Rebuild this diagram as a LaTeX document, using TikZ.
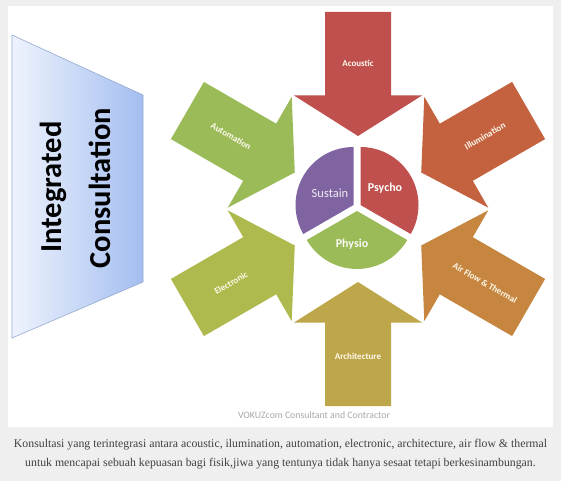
\documentclass[tikz,border=0pt]{standalone}
\usepackage{fontspec}
\setmainfont{Liberation Serif}
\newfontfamily\calibfont{Carlito}
\usepackage{tikz}
\usepackage{xcolor}
\usetikzlibrary{positioning}

\definecolor{pagegray}{RGB}{239,239,239}
\definecolor{acousticred}{RGB}{192,80,77}
\definecolor{illumorange}{RGB}{196,98,64}
\definecolor{airflowbrown}{RGB}{198,134,64}
\definecolor{archgold}{RGB}{190,166,74}
\definecolor{electrolime}{RGB}{174,186,77}
\definecolor{autogreen}{RGB}{155,187,89}
\definecolor{sustainpurple}{RGB}{128,100,162}
\definecolor{psychored}{RGB}{192,80,77}
\definecolor{physiogreen}{RGB}{155,187,89}
\definecolor{consultlight}{RGB}{238,243,253}
\definecolor{consultblue}{RGB}{164,190,240}
\definecolor{consultedge}{RGB}{150,170,210}
\definecolor{labelwhite}{RGB}{255,250,238}
\definecolor{captiongray}{RGB}{64,64,64}
\definecolor{markgray}{RGB}{168,168,168}

\tikzset{
  arrowlabel/.style={font=\calibfont\bfseries\fontsize{9}{10}\selectfont, text=labelwhite, inner sep=0.75pt},
  pielabel/.style={font=\calibfont\bfseries\fontsize{12}{14}\selectfont, text=white, inner sep=0.75pt},
  bigtitle/.style={font=\calibfont\bfseries\fontsize{30.5}{34}\selectfont, text=black, inner sep=0pt, rotate=90}
}

\begin{document}
\begin{tikzpicture}[x=1pt,y=1pt,yscale=-1,xscale=1]
\useasboundingbox (0,0) rectangle (561,481);

%Background
\fill [color=pagegray] (0,0) rectangle (561,481) ;
\fill [color=white] (8,6) rectangle (553,427) ;

%Shape: Trapezoid [Integrated Consultation]
\draw [draw=consultedge, line width=0.6, left color=consultlight, right color=consultblue] (12,35) -- (143,95) -- (143,282) -- (12,338) -- cycle ;

%Shape: Arrow [Acoustic]
\fill [color=acousticred, shift={(358,209)}, rotate=-90] (73,0) -- (113.5,64) -- (113.5,33) -- (197,33) -- (197,-33) -- (113.5,-33) -- (113.5,-64) -- cycle ;
%Shape: Arrow [Illumination]
\fill [color=illumorange, shift={(358,209)}, rotate=-30] (73,0) -- (113.5,64) -- (113.5,33) -- (197,33) -- (197,-33) -- (113.5,-33) -- (113.5,-64) -- cycle ;
%Shape: Arrow [Air Flow & Thermal]
\fill [color=airflowbrown, shift={(358,209)}, rotate=30] (73,0) -- (113.5,64) -- (113.5,33) -- (197,33) -- (197,-33) -- (113.5,-33) -- (113.5,-64) -- cycle ;
%Shape: Arrow [Architecture]
\fill [color=archgold, shift={(358,209)}, rotate=90] (73,0) -- (113.5,64) -- (113.5,33) -- (197,33) -- (197,-33) -- (113.5,-33) -- (113.5,-64) -- cycle ;
%Shape: Arrow [Electronic]
\fill [color=electrolime, shift={(358,209)}, rotate=150] (73,0) -- (113.5,64) -- (113.5,33) -- (197,33) -- (197,-33) -- (113.5,-33) -- (113.5,-64) -- cycle ;
%Shape: Arrow [Automation]
\fill [color=autogreen, shift={(358,209)}, rotate=210] (73,0) -- (113.5,64) -- (113.5,33) -- (197,33) -- (197,-33) -- (113.5,-33) -- (113.5,-64) -- cycle ;

%Shape: Pie [Sustain]
\fill [color=sustainpurple] (353.5,205) -- ++(-210:58) arc [start angle=-210, end angle=-90, radius=58] -- cycle ;
%Shape: Pie [Psycho]
\fill [color=psychored] (360.5,205) -- ++(-90:58) arc [start angle=-90, end angle=30, radius=58] -- cycle ;
%Shape: Pie [Physio]
\fill [color=physiogreen] (357,211) -- ++(30:58) arc [start angle=30, end angle=150, radius=58] -- cycle ;

% Text Node
\node [bigtitle] (integrated) at (53,187) {Integrated};
% Text Node
\node [bigtitle] (consultation) at (100,188) {Consultation};

% Text Node
\node [arrowlabel] (acoustic) at (358,63) {Acoustic};
% Text Node
\node [arrowlabel, rotate=30] (illumination) at (485,136) {Illumination};
% Text Node
\node [arrowlabel, rotate=-30] (airflow) at (485,283) {Air Flow \& Thermal};
% Text Node
\node [arrowlabel] (architecture) at (358,356) {Architecture};
% Text Node
\node [arrowlabel, rotate=30] (electronic) at (231,283) {Electronic};
% Text Node
\node [arrowlabel, rotate=-30] (automation) at (231,136) {Automation};

% Text Node
\node [pielabel, font=\calibfont\fontsize{12.5}{14}\selectfont, text=white!88!sustainpurple] (sustain) at (330,193) {Sustain};
% Text Node
\node [pielabel] (psycho) at (385,188) {Psycho};
% Text Node
\node [pielabel, text=white!94!physiogreen] (physio) at (352,244) {Physio};

% Text Node
\node [font=\calibfont\fontsize{9.8}{11}\selectfont, text=markgray, inner sep=0.75pt] (vokuz) at (314,415) {VOKUZcom Consultant and Contractor};

% Text Node
\node [font=\fontsize{11.8}{19}\selectfont, text=captiongray, align=center, inner sep=0pt] (caption) at (280.5,454.5) {Konsultasi yang terintegrasi antara acoustic, ilumination, automation, electronic, architecture, air flow \& thermal\\untuk mencapai sebuah kepuasan bagi fisik,jiwa yang tentunya tidak hanya sesaat tetapi berkesinambungan.};

\end{tikzpicture}
\end{document}
